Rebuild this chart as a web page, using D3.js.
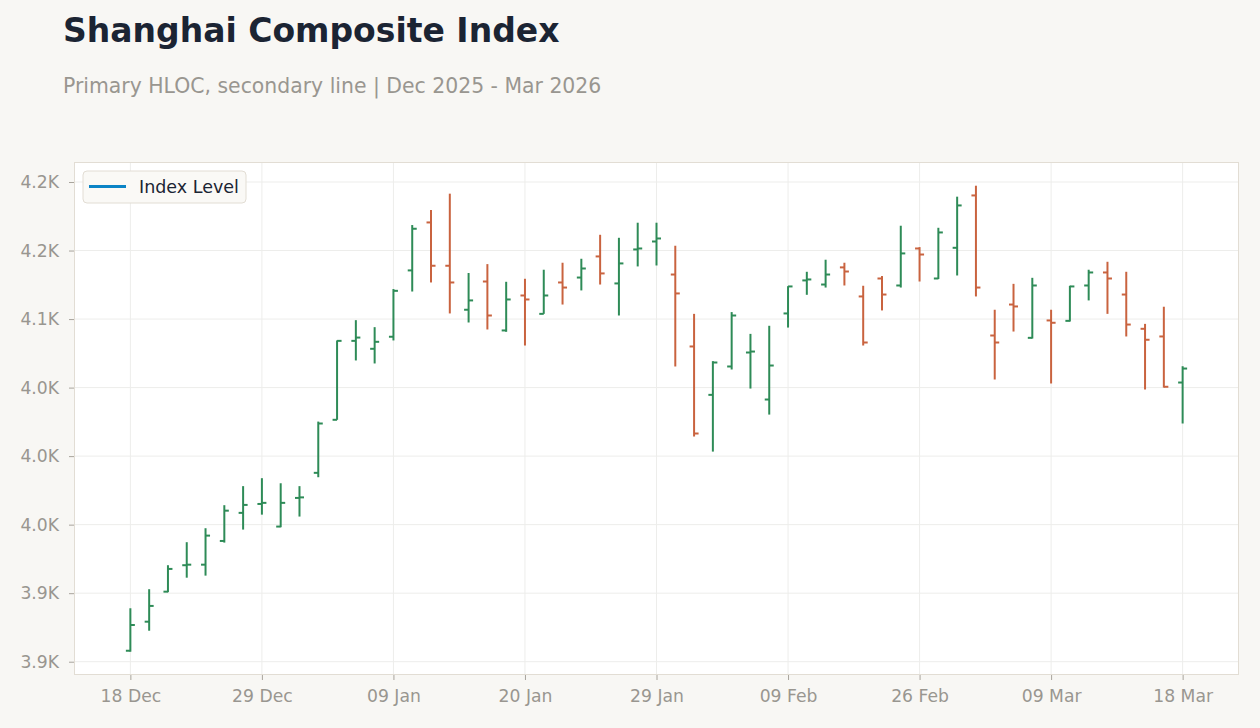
<!DOCTYPE html>
<html lang="en">
<head>
  <meta charset="UTF-8">
  <title>Shanghai Composite Index</title>
  <script src="https://d3js.org/d3.v7.min.js"></script>
  <style>
    body { margin: 0; background: #f8f7f4; font-family: "DejaVu Sans", sans-serif; }
    .tick text { fill: #999690; font-size: 17.2px; }
    .tick line { stroke: #a8a49c; }
    .grid line { stroke: #ededeb; }
  </style>
</head>
<body>
  <svg id="chart"></svg>

  <script>
    const width = 1260;
    const height = 728;

    // trading days (holidays skipped)
    const dates = [
      "2025-12-18", "2025-12-19", "2025-12-22", "2025-12-23", "2025-12-24", "2025-12-25", "2025-12-26",
      "2025-12-29", "2025-12-30", "2025-12-31", "2026-01-05", "2026-01-06", "2026-01-07", "2026-01-08",
      "2026-01-09", "2026-01-12", "2026-01-13", "2026-01-14", "2026-01-15", "2026-01-16", "2026-01-19",
      "2026-01-20", "2026-01-21", "2026-01-22", "2026-01-23", "2026-01-26", "2026-01-27", "2026-01-28",
      "2026-01-29", "2026-01-30", "2026-02-02", "2026-02-03", "2026-02-04", "2026-02-05", "2026-02-06",
      "2026-02-09", "2026-02-10", "2026-02-11", "2026-02-12", "2026-02-13", "2026-02-24", "2026-02-25",
      "2026-02-26", "2026-02-27", "2026-03-02", "2026-03-03", "2026-03-04", "2026-03-05", "2026-03-06",
      "2026-03-09", "2026-03-10", "2026-03-11", "2026-03-12", "2026-03-13", "2026-03-16", "2026-03-17",
      "2026-03-18"
    ];

    const open = [
      3858.0, 3879.2, 3901.1, 3920.4, 3920.8, 3938.1, 3958.6, 3965.1, 3948.6, 3969.5,
      3987.8, 4026.5, 4084.1, 4078.3, 4087.1, 4135.5, 4170.5, 4138.9, 4106.8, 4127.4,
      4091.7, 4117.2, 4103.8, 4126.7, 4130.3, 4145.7, 4126.0, 4150.8, 4156.6, 4132.5,
      4080.0, 4044.7, 4065.4, 4075.6, 4041.3, 4104.1, 4128.2, 4125.2, 4137.7, 4116.5,
      4129.6, 4124.5, 4151.5, 4129.6, 4152.0, 4190.2, 4088.0, 4110.6, 4086.3, 4099.0,
      4098.7, 4124.5, 4134.0, 4117.9, 4092.9, 4087.3, 4053.7
    ];
    const high = [
      3889.0, 3902.9, 3920.4, 3937.2, 3947.4, 3964.2, 3978.1, 3983.9, 3980.2, 3978.1,
      4025.2, 4084.4, 4099.2, 4094.1, 4121.9, 4168.6, 4179.6, 4191.5, 4133.6, 4140.1,
      4127.2, 4129.4, 4136.0, 4141.1, 4144.0, 4161.5, 4159.3, 4170.3, 4170.3, 4153.5,
      4103.8, 4069.3, 4105.1, 4089.2, 4095.1, 4124.0, 4134.5, 4143.3, 4141.1, 4124.3,
      4131.4, 4168.1, 4152.5, 4166.6, 4189.3, 4197.3, 4106.8, 4125.7, 4130.1, 4106.8,
      4124.3, 4136.0, 4141.8, 4134.5, 4096.5, 4109.0, 4065.6
    ];
    const low = [
      3857.3, 3872.6, 3900.7, 3911.3, 3912.8, 3936.9, 3946.4, 3957.3, 3948.1, 3955.9,
      3984.6, 4026.5, 4069.8, 4067.6, 4084.4, 4120.1, 4126.7, 4104.1, 4097.5, 4092.4,
      4090.7, 4080.7, 4103.8, 4110.6, 4120.9, 4125.2, 4102.6, 4138.4, 4139.1, 4065.4,
      4014.3, 4003.3, 4063.2, 4049.3, 4030.3, 4093.8, 4117.7, 4123.0, 4124.5, 4080.7,
      4106.3, 4123.0, 4127.4, 4129.2, 4131.8, 4116.5, 4055.9, 4090.9, 4085.8, 4053.0,
      4098.2, 4113.6, 4103.8, 4087.3, 4048.6, 4050.0, 4023.8
    ];
    const close = [
      3876.8, 3890.7, 3917.7, 3920.8, 3942.0, 3960.2, 3964.4, 3965.9, 3965.9, 3969.9,
      4023.8, 4084.1, 4086.5, 4083.4, 4120.6, 4165.9, 4138.9, 4126.7, 4113.6, 4102.6,
      4114.3, 4114.3, 4117.2, 4123.0, 4136.9, 4133.3, 4140.6, 4151.5, 4158.8, 4118.7,
      4016.5, 4068.3, 4102.6, 4076.3, 4066.1, 4123.8, 4128.9, 4132.5, 4134.7, 4082.9,
      4117.9, 4147.9, 4147.1, 4163.2, 4182.9, 4123.0, 4082.9, 4109.2, 4124.5, 4097.3,
      4123.8, 4134.0, 4129.6, 4096.0, 4084.9, 4050.6, 4063.9
    ];

    const yTicks = [3850, 3900, 3950, 4000, 4050, 4100, 4150, 4200];

    const upColor = "#2e8b57";
    const downColor = "#c9633f";

    const margin = { top: 162, right: 21, bottom: 53, left: 74 };
    const x0 = margin.left, x1 = width - margin.right;
    const y0 = height - margin.bottom, y1 = margin.top;

    const svg = d3.select("#chart").attr("width", width).attr("height", height);

    const bars = dates.map((d, i) => ({
      date: d, open: open[i], high: high[i], low: low[i], close: close[i]
    }));

    const x = d3.scalePoint().domain(dates).range([x0, x1]).padding(3);
    const y = d3.scaleLinear().domain([3840.3, 4214.6]).range([y0, y1]);

    const parse = d3.timeParse("%Y-%m-%d");
    const fmtDate = d3.timeFormat("%d %b");

    // title
    svg.append("text")
      .attr("x", 63).attr("y", 42)
      .attr("font-size", 33).attr("font-weight", "bold")
      .attr("fill", "#1b2433")
      .text("Shanghai Composite Index");

    svg.append("text")
      .attr("x", 63).attr("y", 93)
      .attr("font-size", 20.4)
      .attr("fill", "#999690")
      .text("Primary HLOC, secondary line | Dec 2025 - Mar 2026");

    // plot background
    svg.append("rect")
      .attr("x", x0).attr("y", y1)
      .attr("width", x1 - x0).attr("height", y0 - y1)
      .attr("fill", "#ffffff");

    // grid
    const xTickVals = dates.filter((d, i) => i % 7 === 0);

    svg.append("g").attr("class", "grid")
      .selectAll("line").data(yTicks).enter().append("line")
      .attr("x1", x0).attr("x2", x1)
      .attr("y1", d => y(d)).attr("y2", d => y(d));

    svg.append("g").attr("class", "grid")
      .selectAll("line").data(xTickVals).enter().append("line")
      .attr("x1", d => x(d)).attr("x2", d => x(d))
      .attr("y1", y1).attr("y2", y0);

    // frame
    svg.append("rect")
      .attr("x", x0 + 0.5).attr("y", y1 + 0.5)
      .attr("width", x1 - x0 - 1).attr("height", y0 - y1 - 1)
      .attr("fill", "none")
      .attr("stroke", "#e2ddd4");

    // axes
    const yAxis = svg.append("g")
      .attr("transform", `translate(${x0},0)`)
      .call(d3.axisLeft(y).tickValues(yTicks).tickSize(5).tickPadding(10)
        .tickFormat(d => (d / 1000).toFixed(1) + "K"));
    yAxis.select(".domain").remove();
    yAxis.selectAll("text").attr("font-family", "DejaVu Sans, sans-serif");

    const xAxis = svg.append("g")
      .attr("transform", `translate(0,${y0})`)
      .call(d3.axisBottom(x).tickValues(xTickVals).tickSize(5).tickPadding(10)
        .tickFormat(d => fmtDate(parse(d))));
    xAxis.select(".domain").remove();
    xAxis.selectAll("text").attr("font-family", "DejaVu Sans, sans-serif");

    // OHLC bars
    const tick = 4.5;
    const g = svg.append("g").attr("class", "ohlc");
    const bar = g.selectAll("g").data(bars).enter().append("g")
      .attr("stroke", d => d.close >= d.open ? upColor : downColor)
      .attr("stroke-width", 2);

    bar.append("line")
      .attr("x1", d => x(d.date)).attr("x2", d => x(d.date))
      .attr("y1", d => y(d.high)).attr("y2", d => y(d.low));

    bar.append("line")
      .attr("x1", d => x(d.date) - tick).attr("x2", d => x(d.date))
      .attr("y1", d => y(d.open)).attr("y2", d => y(d.open));

    bar.append("line")
      .attr("x1", d => x(d.date)).attr("x2", d => x(d.date) + tick)
      .attr("y1", d => y(d.close)).attr("y2", d => y(d.close));

    // legend
    const legend = svg.append("g").attr("transform", "translate(83,171)");
    legend.append("rect")
      .attr("width", 163).attr("height", 32).attr("rx", 4)
      .attr("fill", "#faf9f6").attr("stroke", "#e2ddd4");
    legend.append("line")
      .attr("x1", 6).attr("x2", 43).attr("y1", 15.5).attr("y2", 15.5)
      .attr("stroke", "#0b84c6").attr("stroke-width", 3);
    legend.append("text")
      .attr("x", 56).attr("y", 16).attr("dy", "0.35em")
      .attr("font-size", 17.5).attr("fill", "#1b2433")
      .text("Index Level");
  </script>
</body>
</html>
